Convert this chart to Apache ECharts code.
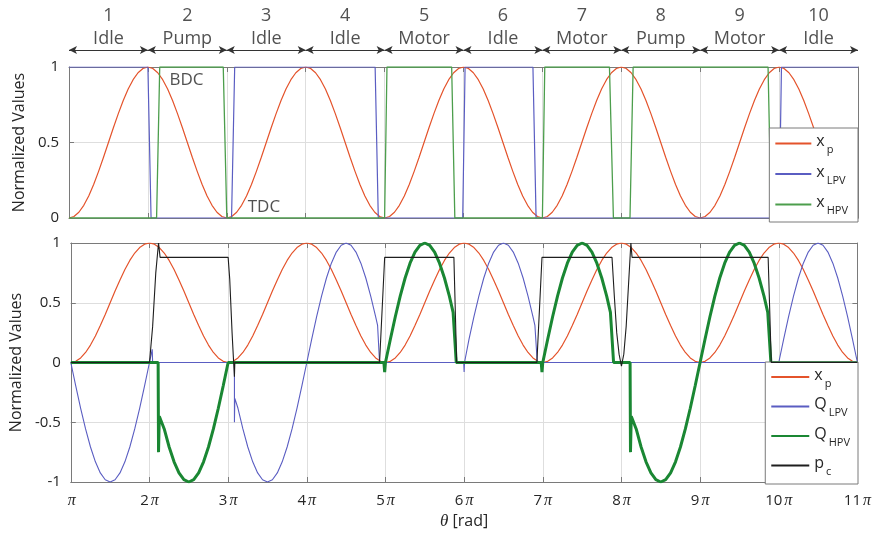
<!DOCTYPE html>
<html><head><meta charset="utf-8">
<script src="https://cdn.jsdelivr.net/npm/echarts@6/dist/echarts.min.js"></script>
<style>html,body{margin:0;padding:0;background:#fff}#c{width:874px;height:540px}</style>
</head><body><div id="c"></div>
<script>
// ---- data (θ given in multiples of π) ----
const segmentNumbers = ['1','2','3','4','5','6','7','8','9','10'];
const segmentModes = ['Idle','Pump','Idle','Idle','Motor','Idle','Motor','Pump','Motor','Idle'];

// piston position x_p sampled every π/16 starting at θ = π
const XP_START = 1, XP_STEP = 1 / 16;
const xpValues = [
 0,0.010,0.038,0.084,0.146,0.222,0.309,0.402,0.5,0.598,0.691,0.778,0.854,0.916,0.962,0.990,1,0.990,0.962,0.916,0.854,0.778,0.691,0.598,0.5,0.402,0.309,0.222,0.146,0.084,0.038,0.010,
 0,0.010,0.038,0.084,0.146,0.222,0.309,0.402,0.5,0.598,0.691,0.778,0.854,0.916,0.962,0.990,1,0.990,0.962,0.916,0.854,0.778,0.691,0.598,0.5,0.402,0.309,0.222,0.146,0.084,0.038,0.010,
 0,0.010,0.038,0.084,0.146,0.222,0.309,0.402,0.5,0.598,0.691,0.778,0.854,0.916,0.962,0.990,1,0.990,0.962,0.916,0.854,0.778,0.691,0.598,0.5,0.402,0.309,0.222,0.146,0.084,0.038,0.010,
 0,0.010,0.038,0.084,0.146,0.222,0.309,0.402,0.5,0.598,0.691,0.778,0.854,0.916,0.962,0.990,1,0.990,0.962,0.916,0.854,0.778,0.691,0.598,0.5,0.402,0.309,0.222,0.146,0.084,0.038,0.010,
 0,0.010,0.038,0.084,0.146,0.222,0.309,0.402,0.5,0.598,0.691,0.778,0.854,0.916,0.962,0.990,1,0.990,0.962,0.916,0.854,0.778,0.691,0.598,0.5,0.402,0.309,0.222,0.146,0.084,0.038,0.010,
 0
];

// valve positions [θ/π, value]
const xLPV = [[1,1],[2,1],[2.04,0],[3.06,0],[3.1,1],[4.88,1],[4.92,0],[5.99,0],[6.02,1],[6.88,1],[6.92,0],[10,0],[10.03,1],[11,1]];
const xHPV = [[1,0],[2.11,0],[2.15,1],[2.955,1],[3,0],[5,0],[5.03,1],[5.85,1],[5.89,0],[7,0],[7.03,1],[7.85,1],[7.9,0],[8.11,0],[8.15,1],[9.86,1],[9.9,0],[11,0]];

// valve flows [θ/π, value]
const qLPV = [
 [1,0],[1.0625,-0.195],[1.125,-0.383],[1.1875,-0.556],[1.25,-0.707],[1.3125,-0.831],[1.375,-0.924],[1.4375,-0.981],[1.5,-1],[1.5625,-0.981],[1.625,-0.924],[1.6875,-0.831],[1.75,-0.707],[1.8125,-0.556],[1.875,-0.383],[1.9375,-0.195],[2,0],[2.035,0.11],[2.04,0],
 [3.08,0],[3.08,-0.5],[3.085,-0.3],[3.125,-0.383],[3.1875,-0.556],[3.25,-0.707],[3.3125,-0.831],[3.375,-0.924],[3.4375,-0.981],[3.5,-1],[3.5625,-0.981],[3.625,-0.924],[3.6875,-0.831],[3.75,-0.707],[3.8125,-0.556],[3.875,-0.383],[3.9375,-0.195],[4,0],
 [4.0625,0.195],[4.125,0.383],[4.1875,0.556],[4.25,0.707],[4.3125,0.831],[4.375,0.924],[4.4375,0.981],[4.5,1],[4.5625,0.981],[4.625,0.924],[4.6875,0.831],[4.75,0.707],[4.8125,0.556],[4.875,0.383],[4.9,0.31],[4.925,0],
 [5.995,0],[6,-0.08],[6.005,0],[6.0625,0.195],[6.125,0.383],[6.1875,0.556],[6.25,0.707],[6.3125,0.831],[6.375,0.924],[6.4375,0.981],[6.5,1],[6.5625,0.981],[6.625,0.924],[6.6875,0.831],[6.75,0.707],[6.8125,0.556],[6.875,0.383],[6.9,0.31],[6.93,0],
 [10,0],[10.0625,0.195],[10.125,0.383],[10.1875,0.556],[10.25,0.707],[10.3125,0.831],[10.375,0.924],[10.4375,0.981],[10.5,1],[10.5625,0.981],[10.625,0.924],[10.6875,0.831],[10.75,0.707],[10.8125,0.556],[10.875,0.383],[10.9375,0.195],[11,0]
];
const qHPV = [
 [1,0],[2.11,0],[2.115,-0.75],[2.125,-0.45],[2.1875,-0.556],[2.25,-0.707],[2.3125,-0.831],[2.375,-0.924],[2.4375,-0.981],[2.5,-1],[2.5625,-0.981],[2.625,-0.924],[2.6875,-0.831],[2.75,-0.707],[2.8125,-0.556],[2.875,-0.383],[2.9375,-0.195],[3,0],
 [4.98,0],[4.99,-0.08],[5,0],[5.0625,0.195],[5.125,0.383],[5.1875,0.556],[5.25,0.707],[5.3125,0.831],[5.375,0.924],[5.4375,0.981],[5.5,1],[5.5625,0.981],[5.625,0.924],[5.6875,0.831],[5.75,0.707],[5.8125,0.556],[5.86,0.42],[5.9,0],
 [6.98,0],[6.99,-0.08],[7,0],[7.0625,0.195],[7.125,0.383],[7.1875,0.556],[7.25,0.707],[7.3125,0.831],[7.375,0.924],[7.4375,0.981],[7.5,1],[7.5625,0.981],[7.625,0.924],[7.6875,0.831],[7.75,0.707],[7.8125,0.556],[7.86,0.42],[7.9,0],
 [8.11,0],[8.115,-0.75],[8.125,-0.45],[8.1875,-0.556],[8.25,-0.707],[8.3125,-0.831],[8.375,-0.924],[8.4375,-0.981],[8.5,-1],[8.5625,-0.981],[8.625,-0.924],[8.6875,-0.831],[8.75,-0.707],[8.8125,-0.556],[8.875,-0.383],[8.9375,-0.195],[9,0],
 [9.0625,0.195],[9.125,0.383],[9.1875,0.556],[9.25,0.707],[9.3125,0.831],[9.375,0.924],[9.4375,0.981],[9.5,1],[9.5625,0.981],[9.625,0.924],[9.6875,0.831],[9.75,0.707],[9.8125,0.556],[9.86,0.42],[9.9,0],[11,0]
];
// chamber pressure [θ/π, value]
const pC = [
 [1,0],[2,0],[2.04,0.3],[2.08,0.75],[2.115,1],[2.135,0.88],[3,0.88],[3.02,0.7],[3.05,0.25],[3.07,0],[3.08,-0.12],[3.085,0],
 [4.925,0],[4.99,0.88],[5.87,0.88],[5.905,0],
 [6.925,0],[6.99,0.88],[7.88,0.88],[7.91,0.55],[7.94,0.25],[7.97,0.07],[8,-0.03],[8.03,0.07],[8.06,0.3],[8.09,0.65],[8.12,1],[8.135,0.88],
 [9.865,0.88],[9.905,0],[11,0]
];
const deadCentreNotes = [[2.49, 0.91, 'BDC'], [3.47, 0.075, 'TDC']];

// ---- style ----
const FONT = "'Open Sans', sans-serif";
const C = {red:'#E4532B', blue:'#5A5DC2', green:'#4C9E4C', dkgreen:'#1A8733', black:'#1e1e1e',
           axis:'#7a7a7a', grid:'#dedede', text:'#262626'};
const LEFT = 69, RIGHT = 16;

const xpPairs = xpValues.map((v, i) => [XP_START + i * XP_STEP, v]);

function piLabel(v) { return v === 1 ? '{p|π}' : '{d|' + v + '}{p|π}'; }

function xPair(gridIndex, showLabels) {
  const base = {type:'value', gridIndex, min:1, max:11, interval:1,
    axisLine:{show:true, onZero:false, lineStyle:{color:C.axis, width:1}},
    axisTick:{show:true, inside:true, length:5, lineStyle:{color:C.axis}}};
  const bottom = Object.assign({}, base, {position:'bottom',
    splitLine:{show:true, lineStyle:{color:C.grid, width:1}},
    axisLabel: showLabels ? {show:true, margin:11, formatter:piLabel,
      rich:{d:{fontFamily:FONT, fontSize:15, color:C.text},
            p:{fontFamily:"'Liberation Serif', serif", fontStyle:'italic', fontSize:16, color:C.text, padding:[0,0,0,2]}}} : {show:false}});
  if (showLabels) {
    Object.assign(bottom, {name:'{i|θ} [rad]', nameLocation:'middle', nameGap:31,
      nameTextStyle:{fontFamily:FONT, fontSize:16, color:C.text,
        rich:{i:{fontFamily:"'Liberation Serif', serif", fontStyle:'italic', fontSize:17, color:C.text}}}});
  }
  const top = Object.assign({}, base, {position:'top', splitLine:{show:false}, axisLabel:{show:false}});
  return [bottom, top];
}
function yPair(gridIndex, min, max) {
  const base = {type:'value', gridIndex, min, max, interval:0.5,
    axisLine:{show:true, onZero:false, lineStyle:{color:C.axis, width:1}},
    axisTick:{show:true, inside:true, length:5, lineStyle:{color:C.axis}}};
  const left = Object.assign({}, base, {position:'left',
    splitLine:{show:true, lineStyle:{color:C.grid, width:1}},
    axisLabel:{show:true, margin:10, fontFamily:FONT, fontSize:15, color:C.text},
    name:'Normalized Values', nameLocation:'middle', nameGap:38, nameRotate:90,
    nameTextStyle:{fontFamily:FONT, fontSize:16, color:C.text}});
  const right = Object.assign({}, base, {position:'right', splitLine:{show:false}, axisLabel:{show:false}});
  return [left, right];
}

function lineSeries(name, data, color, width, xi, yi, z) {
  return {type:'line', name, data, xAxisIndex:xi, yAxisIndex:yi, symbol:'none', showSymbol:false,
    lineStyle:{color, width}, itemStyle:{color}, z: z || 2, animation:false, silent:true};
}

const LEG = {xp_top:'{m|x}{s|p}', xLPV:'{m|x}{s|LPV}', xHPV:'{m|x}{s|HPV}',
             xp_bot:'{m|x}{s|p}', QLPV:'{m|Q}{s|LPV}', QHPV:'{m|Q}{s|HPV}', pc:'{m|p}{s|c}'};
const legendCommon = {orient:'vertical', right:RIGHT, itemWidth:36, itemHeight:14,
  backgroundColor:'#fff', borderColor:C.axis, borderWidth:1, borderRadius:0,
  itemStyle:{opacity:0},
  formatter: n => LEG[n], selectedMode:false,
  textStyle:{fontFamily:FONT, color:C.text,
    rich:{m:{fontFamily:FONT, fontSize:16, color:C.text, padding:[0,0,4,0], verticalAlign:'middle'},
          s:{fontFamily:FONT, fontSize:11, color:C.text, padding:[13,0,0,2], verticalAlign:'middle'}}}};

const NUM_LEVEL = 16, MODE_LEVEL = 39, ARROW_LEVEL = 50;

const option = {
  animation:false,
  backgroundColor:'#fff',
  grid:[
    {left:LEFT, right:RIGHT, top:67, height:151},
    {left:LEFT, right:RIGHT, top:243, height:239},
    {left:LEFT, right:RIGHT, top:0, height:67}
  ],
  xAxis:[...xPair(0,false), ...xPair(1,true),
    {type:'value', gridIndex:2, min:1, max:11, show:false}],
  yAxis:[...yPair(0,0,1), ...yPair(1,-1,1),
    {type:'value', gridIndex:2, min:0, max:67, inverse:true, show:false}],
  legend:[
    Object.assign({}, legendCommon, {data:['xp_top','xLPV','xHPV'], top:128, itemGap:8.5, padding:[5.5,10,5.5,5]}),
    Object.assign({}, legendCommon, {data:['xp_bot','QLPV','QHPV','pc'], top:362, itemGap:7.5, padding:[5,8,6.5,5], itemWidth:38})
  ],
  series:[
    lineSeries('xp_top', xpPairs, C.red, 1.2, 0, 0),
    lineSeries('xLPV', xLPV, C.blue, 1.2, 0, 0),
    lineSeries('xHPV', xHPV, C.green, 1.3, 0, 0),
    {type:'scatter', xAxisIndex:0, yAxisIndex:0, data:deadCentreNotes, symbolSize:1,
     itemStyle:{color:'transparent'}, silent:true, animation:false,
     label:{show:true, position:'inside', formatter:p => p.data[2], fontFamily:FONT, fontSize:17, color:C.text}},
    lineSeries('xp_bot', xpPairs, C.red, 1.2, 2, 2),
    lineSeries('QLPV', qLPV, C.blue, 1.1, 2, 2),
    lineSeries('QHPV', qHPV, C.dkgreen, 3, 2, 2, 3),
    lineSeries('pc', pC, C.black, 1.1, 2, 2, 4),
    {type:'scatter', xAxisIndex:4, yAxisIndex:4, symbolSize:1, itemStyle:{color:'transparent'}, silent:true,
     animation:false, clip:false,
     data:[...segmentNumbers.map((n, i) => [i + 1.5, NUM_LEVEL, n]),
           ...segmentModes.map((m, i) => [i + 1.5, MODE_LEVEL, m])],
     label:{show:true, position:'inside', formatter:p => p.data[2], fontFamily:FONT, fontSize:18, color:C.text},
     markLine:{silent:true, animation:false, symbol:['arrow','arrow'], symbolSize:[6,8],
       label:{show:false}, lineStyle:{color:'#333', width:1, type:'solid'},
       data: segmentModes.map((m, i) => [{coord:[i + 1, ARROW_LEVEL]}, {coord:[i + 2, ARROW_LEVEL]}])}}
  ]
};
const chart = echarts.init(document.getElementById('c'), null, {renderer:'canvas'});
chart.setOption(option);
</script>
</body></html>
